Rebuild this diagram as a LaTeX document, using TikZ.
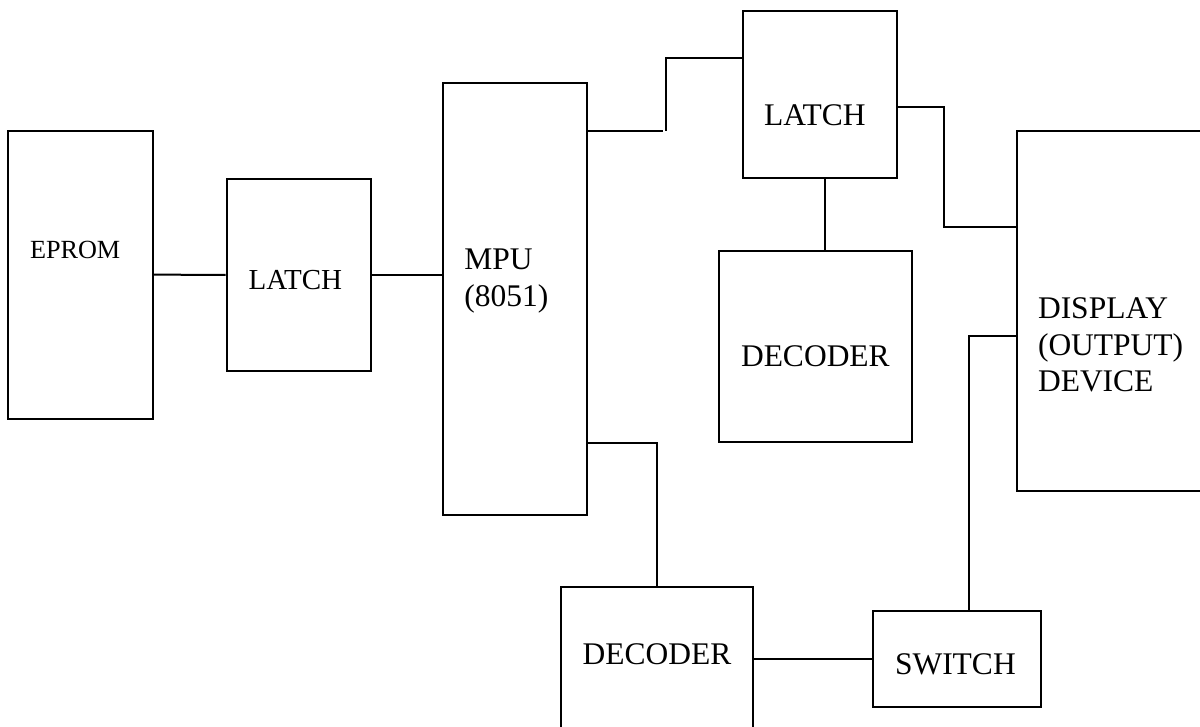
\documentclass[tikz,border=0pt]{standalone}
\usepackage{fontspec}
\setmainfont{Liberation Serif}
\usepackage{tikz}

\begin{document}
\begin{tikzpicture}[x=0.5pt, y=-0.5pt, line width=1pt,
    blk/.style={draw, rectangle, inner sep=0pt},
    lbl/.style={inner sep=0pt, anchor=base west, align=left,
      font=\fontsize{15.75}{18.35}\selectfont}]
  \useasboundingbox (0,0) rectangle (1200,727);
  % blocks: name/centre x/centre y/width/height
  \foreach \n/\x/\y/\w/\h in {eprom/80.5/274.6/144.4/287.8, latchA/298.85/275/144.3/192,
      mpu/514.7/299/144/432, latchB/820/94.3/154/167.3, decA/815.5/346.5/193/191,
      disp/1123.5/311/213/360, decB/656.7/682.3/192/191.3, sw/956.85/658.85/168.3/95.7}
    \node[blk, minimum width=\w*0.5pt, minimum height=\h*0.5pt] (\n) at (\x,\y) {};
  % labels (base = last line)
  \node[lbl, font=\fontsize{13.1}{15}\selectfont] (epromtxt) at (29,258.3) {EPROM};
  \node[lbl, font=\fontsize{14.5}{17}\selectfont] (latchAtxt) at (247.7,289.3) {LATCH};
  \node[lbl] (mputxt) at (463.3,306.7) {MPU\\(8051)};
  \node[lbl] (latchBtxt) at (763,125.7) {LATCH};
  \node[lbl] (decAtxt) at (740,366) {DECODER};
  \node[lbl] (disptxt) at (1037,391.7) {DISPLAY\\(OUTPUT)\\DEVICE};
  \node[lbl] (decBtxt) at (581.7,664) {DECODER};
  \node[lbl] (swtxt) at (894,674) {SWITCH};
  % wires
  \coordinate (tapA) at (663,131);
  \coordinate (tapB) at (666,131);
  \draw (eprom.east) -- (latchA.west);
  \draw (latchA.east) -- (latchA.east -| mpu.west);
  \draw (mpu.east |- tapA) -- (tapA);
  \draw (tapB) |- (latchB.west |- 0,58);
  \draw (latchB.east |- 0,107) -| (944,227) -- (disp.west |- 0,227);
  \draw (latchB.south -| 825,0) -- (decA.north -| 825,0);
  \draw (mpu.east |- 0,443) -| (decB.north);
  \draw (decB.east |- sw.west) -- (sw.west);
  \draw (sw.north -| 969,0) |- (disp.west |- 0,336);
\end{tikzpicture}
\end{document}
